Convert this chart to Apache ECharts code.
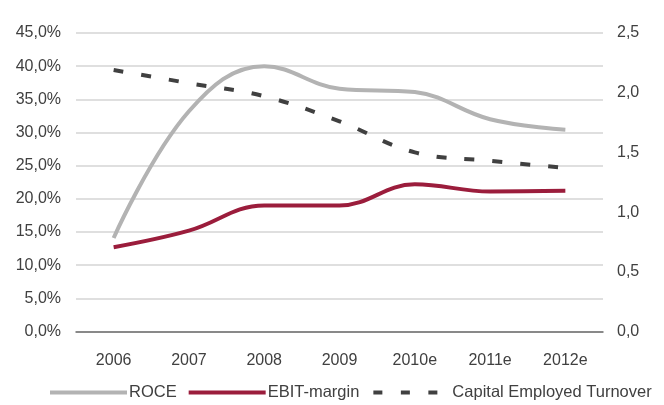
<!DOCTYPE html>
<html>
<head>
<meta charset="utf-8">
<script src="https://cdn.jsdelivr.net/npm/echarts@6/dist/echarts.min.js"></script>
<style>html,body{margin:0;padding:0;background:#fff;}#c{width:664px;height:405px;}</style>
</head>
<body>
<div id="c"></div>
<script>
var categories = ['2006', '2007', '2008', '2009', '2010e', '2011e', '2012e'];
var roce = [14.1, 33.2, 40.0, 36.6, 36.1, 32.0, 30.4];
var ebitMargin = [12.7, 15.2, 19.0, 19.0, 22.2, 21.1, 21.2];
var capTurnover = [2.19, 2.08, 1.97, 1.76, 1.50, 1.43, 1.37];
var leftTicks = [0, 5, 10, 15, 20, 25, 30, 35, 40, 45];
var rightTicks = [0, 0.5, 1.0, 1.5, 2.0, 2.5];

var font = 'Liberation Sans, Arial, sans-serif';
var txt = '#404040';
var solidIcon = 'path://M0,0h77v4h-77z';
var chart = echarts.init(document.getElementById('c'));
chart.setOption({
  animation: false,
  backgroundColor: '#fff',
  textStyle: {fontFamily: font},
  grid: {left: 76, right: 61, top: 33, bottom: 73.5, containLabel: false},
  legend: {
    left: 45, top: 379, itemWidth: 77, itemHeight: 4, itemGap: 12,
    textStyle: {fontFamily: font, fontSize: 16.5, color: txt, padding: [0, 0, 0, -3]},
    data: [
      {name: 'ROCE', icon: solidIcon},
      {name: 'EBIT-margin', icon: solidIcon},
      {name: 'Capital Employed Turnover', itemStyle: {opacity: 0},
        lineStyle: {color: '#404040', width: 4, type: [9, 18.5], opacity: 1}}
    ]
  },
  xAxis: {
    type: 'category', data: categories, boundaryGap: true,
    axisLine: {lineStyle: {color: '#6e6e6e', width: 1.5}},
    axisTick: {show: false},
    axisLabel: {fontFamily: font, fontSize: 16, color: txt, margin: 21}
  },
  yAxis: [{
    type: 'value', min: leftTicks[0], max: leftTicks[leftTicks.length - 1], interval: 5,
    axisLine: {show: false}, axisTick: {show: false},
    splitLine: {lineStyle: {color: '#d4d4d4', width: 1.5}},
    axisLabel: {fontFamily: font, fontSize: 16, color: txt, margin: 15,
      formatter: function (v) { return v.toFixed(1).replace('.', ',') + '%'; }}
  }, {
    type: 'value', min: rightTicks[0], max: rightTicks[rightTicks.length - 1], interval: 0.5,
    axisLine: {show: false}, axisTick: {show: false}, splitLine: {show: false},
    axisLabel: {fontFamily: font, fontSize: 16, color: txt, margin: 14,
      formatter: function (v) { return v.toFixed(1).replace('.', ','); }}
  }],
  series: [{
    name: 'ROCE', type: 'line', data: roce, yAxisIndex: 0, smooth: 0.4,
    symbol: 'none', lineStyle: {color: '#b3b3b3', width: 4}, itemStyle: {color: '#b3b3b3'}
  }, {
    name: 'EBIT-margin', type: 'line', data: ebitMargin, yAxisIndex: 0, smooth: 0.4,
    symbol: 'none', lineStyle: {color: '#9b1d3c', width: 4}, itemStyle: {color: '#9b1d3c'}
  }, {
    name: 'Capital Employed Turnover', type: 'line', data: capTurnover, yAxisIndex: 1, smooth: 0.4,
    symbol: 'none', lineStyle: {color: '#404040', width: 4, type: [10, 18]}, itemStyle: {color: '#404040'}
  }]
});
</script>
</body>
</html>
